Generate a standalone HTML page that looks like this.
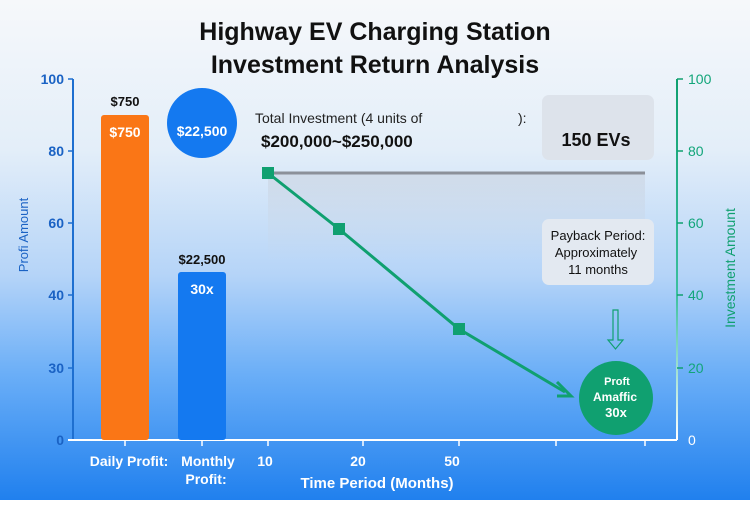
<!DOCTYPE html>
<html><head><meta charset="utf-8"><style>
html,body{margin:0;padding:0;}
body{width:750px;height:500px;overflow:hidden;font-family:"Liberation Sans","DejaVu Sans",sans-serif;}
</style></head><body>
<svg width="750" height="500" viewBox="0 0 750 500" xmlns="http://www.w3.org/2000/svg" font-family="Liberation Sans, DejaVu Sans, sans-serif">
<defs>
<linearGradient id="bg" x1="0" y1="0" x2="0" y2="1">
<stop offset="0" stop-color="#f6f8fa"/>
<stop offset="0.3" stop-color="#e3eef9"/>
<stop offset="0.55" stop-color="#b5d4f8"/>
<stop offset="0.75" stop-color="#6aaef7"/>
<stop offset="1" stop-color="#2080ee"/>
</linearGradient>
<linearGradient id="shade" x1="0" y1="0" x2="0" y2="1">
<stop offset="0" stop-color="#c9d3df" stop-opacity="0.6"/>
<stop offset="1" stop-color="#c9d3df" stop-opacity="0"/>
</linearGradient>
<linearGradient id="rax" gradientUnits="userSpaceOnUse" x1="0" y1="79" x2="0" y2="440">
<stop offset="0" stop-color="#10a070"/>
<stop offset="0.6" stop-color="#3cc0a0"/>
<stop offset="1" stop-color="#ffffff"/>
</linearGradient>
</defs>
<rect width="750" height="500" fill="url(#bg)"/>
<text x="375" y="40" text-anchor="middle" font-size="25" font-weight="bold" fill="#111">Highway EV Charging Station</text>
<text x="375" y="73" text-anchor="middle" font-size="25" font-weight="bold" fill="#111">Investment Return Analysis</text>
<rect x="268" y="173" width="377" height="90" fill="url(#shade)"/>
<line x1="268" y1="173" x2="645" y2="173" stroke="#8b9099" stroke-width="3"/>
<line x1="73" y1="79" x2="73" y2="440" stroke="#1e6fd0" stroke-width="2"/>
<g font-size="14" fill="#1a62c4" text-anchor="end" font-weight="bold">
<text x="64" y="84">100</text><text x="64" y="156">80</text><text x="64" y="228">60</text><text x="64" y="300">40</text><text x="64" y="373">30</text><text x="64" y="445">0</text></g>
<g stroke="#1e6fd0" stroke-width="1.5"><line x1="68" y1="79" x2="73" y2="79"/><line x1="68" y1="151" x2="73" y2="151"/><line x1="68" y1="223" x2="73" y2="223"/><line x1="68" y1="295" x2="73" y2="295"/><line x1="68" y1="368" x2="73" y2="368"/></g>
<text transform="translate(28,235) rotate(-90)" text-anchor="middle" font-size="13" fill="#1a62c4">Profi Amount</text>
<line x1="68" y1="440" x2="677" y2="440" stroke="#fff" stroke-width="2"/>
<g stroke="#fff" stroke-width="1.5"><line x1="125" y1="440" x2="125" y2="446"/><line x1="202" y1="440" x2="202" y2="446"/><line x1="268" y1="440" x2="268" y2="446"/><line x1="363" y1="440" x2="363" y2="446"/><line x1="459" y1="440" x2="459" y2="446"/><line x1="556" y1="440" x2="556" y2="446"/><line x1="645" y1="440" x2="645" y2="446"/></g>
<g font-size="14" fill="#fff" font-weight="bold" text-anchor="middle">
<text x="129" y="466">Daily Profit:</text><text x="208" y="466">Monthly</text><text x="206" y="484">Profit:</text>
<text x="265" y="466">10</text><text x="358" y="466">20</text><text x="452" y="466">50</text>
<text x="377" y="488" font-size="15">Time Period (Months)</text></g>
<line x1="677" y1="79" x2="677" y2="440" stroke="url(#rax)" stroke-width="2"/>
<g stroke="#10a070" stroke-width="1.5"><line x1="677" y1="79" x2="683" y2="79"/><line x1="677" y1="151" x2="683" y2="151"/><line x1="677" y1="223" x2="683" y2="223"/><line x1="677" y1="295" x2="683" y2="295"/><line x1="677" y1="368" x2="683" y2="368"/></g>
<g font-size="14" fill="#12a57a"><text x="688" y="84">100</text><text x="688" y="156">80</text><text x="688" y="228">60</text><text x="688" y="300">40</text><text x="688" y="373">20</text><text x="688" y="445" fill="#fff">0</text></g>
<text transform="translate(735,268) rotate(-90)" text-anchor="middle" font-size="14" fill="#10a070">Investment Amount</text>
<rect x="101" y="115" width="48" height="325" rx="3" fill="#fa7616"/>
<rect x="178" y="272" width="48" height="168" rx="3" fill="#1479f0"/>
<text x="125" y="106" text-anchor="middle" font-size="13" font-weight="bold" fill="#111">$750</text>
<text x="125" y="137" text-anchor="middle" font-size="14" font-weight="bold" fill="#fff">$750</text>
<text x="202" y="264" text-anchor="middle" font-size="13" font-weight="bold" fill="#111">$22,500</text>
<text x="202" y="294" text-anchor="middle" font-size="14" font-weight="bold" fill="#fff">30x</text>
<circle cx="202" cy="123" r="35" fill="#1479f0"/>
<text x="202" y="136" text-anchor="middle" font-size="14" font-weight="bold" fill="#fff">$22,500</text>
<text x="255" y="123" font-size="14" fill="#222">Total Investment (4 units of</text>
<text x="518" y="123" font-size="14" fill="#222">):</text>
<text x="261" y="147" font-size="17" font-weight="bold" fill="#111">$200,000~$250,000</text>
<rect x="542" y="95" width="112" height="65" rx="7" fill="#dde3eb"/>
<text x="596" y="146" text-anchor="middle" font-size="18" font-weight="bold" fill="#111">150 EVs</text>
<rect x="542" y="219" width="112" height="66" rx="7" fill="#e3e9f1"/>
<g font-size="13" fill="#111" text-anchor="middle"><text x="598" y="240">Payback Period:</text><text x="596" y="257">Approximately</text><text x="598" y="274">11 months</text></g>
<polyline points="268,173 339,229 459,329 565,392" fill="none" stroke="#10a070" stroke-width="3"/>
<path d="M557,382 L571,396 L557,396" fill="none" stroke="#10a070" stroke-width="3"/>
<rect x="262" y="167" width="12" height="12" fill="#10a070"/>
<rect x="333" y="223" width="12" height="12" fill="#10a070"/>
<rect x="453" y="323" width="12" height="12" fill="#10a070"/>
<path d="M613,310 L618,310 L618,340 L623,340 L615.5,349 L608,340 L613,340 Z" fill="none" stroke="#10a070" stroke-width="1.2"/>
<circle cx="616" cy="398" r="37" fill="#10a070"/>
<g fill="#fff" font-weight="bold" text-anchor="middle"><text x="617" y="385" font-size="11">Proft</text><text x="615" y="401" font-size="12">Amaffic</text><text x="616" y="417" font-size="13">30x</text></g>
</svg>
</body></html>
